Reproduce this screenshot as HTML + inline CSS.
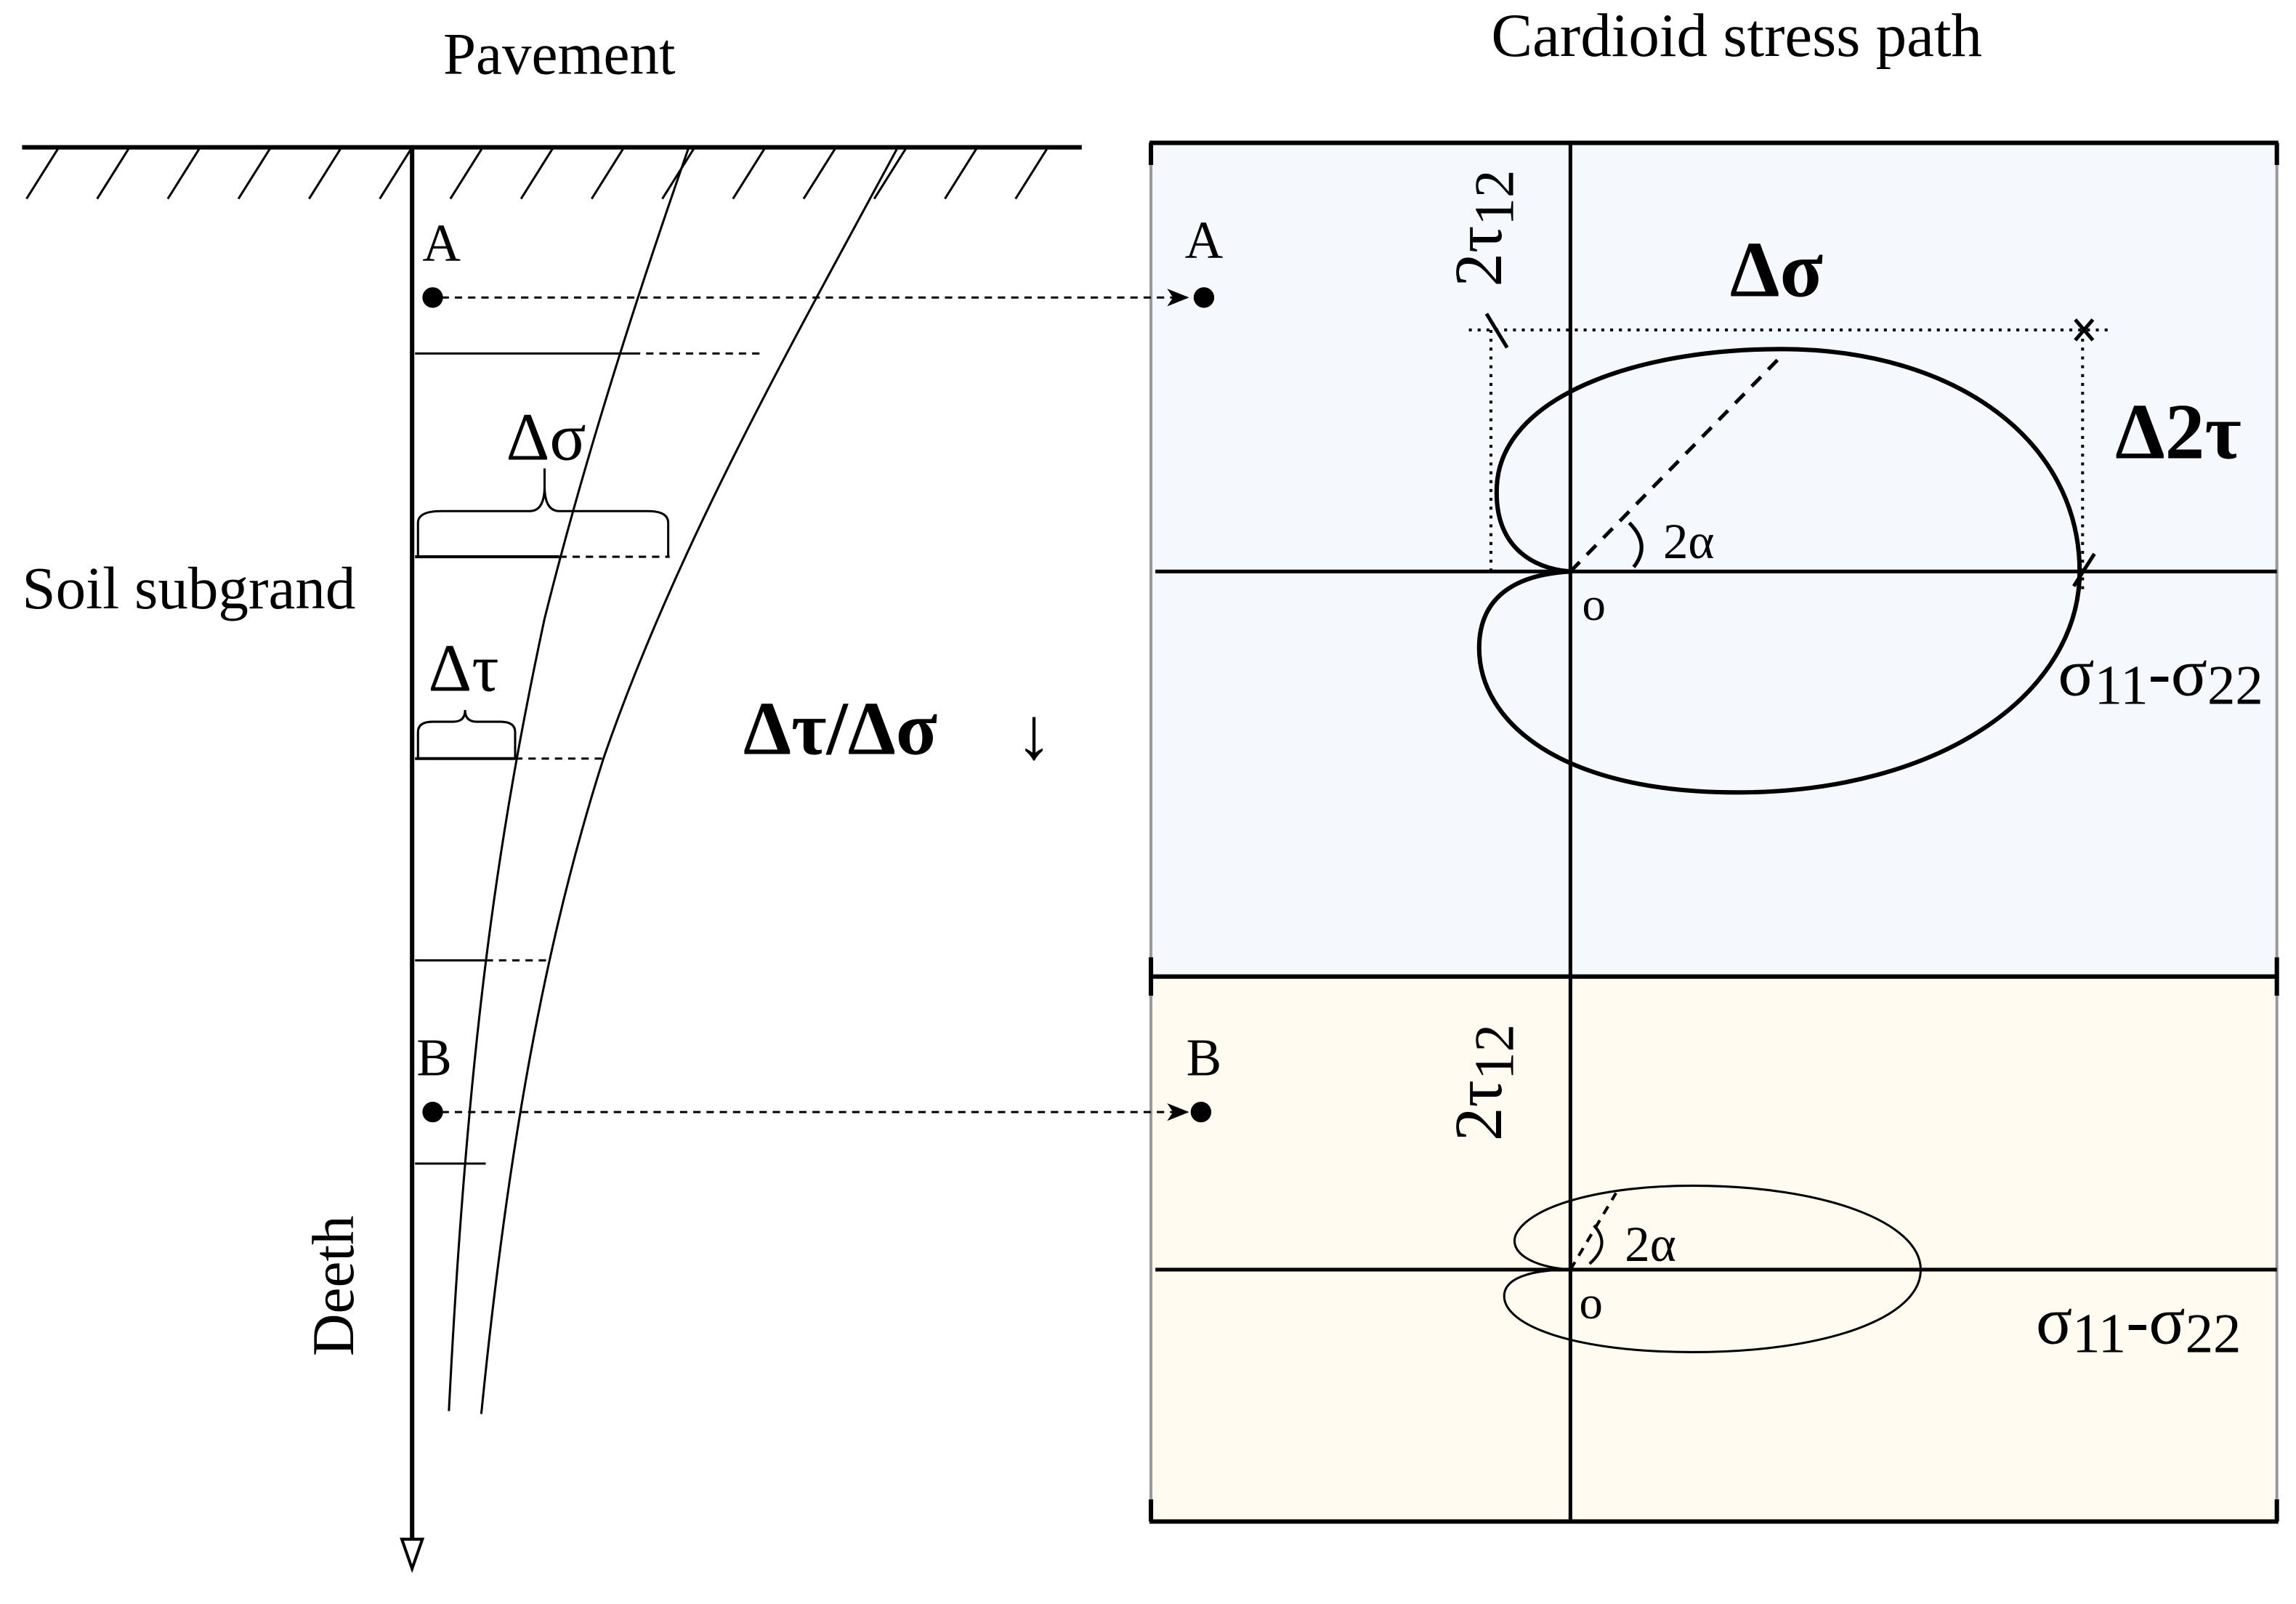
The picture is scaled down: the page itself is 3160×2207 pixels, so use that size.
<!DOCTYPE html>
<html><head><meta charset="utf-8"><style>html,body{margin:0;padding:0;background:#fff}svg{display:block}</style></head>
<body>
<svg width="3160" height="2207" viewBox="0 0 1560 1089" preserveAspectRatio="none" xmlns="http://www.w3.org/2000/svg" font-family="Liberation Serif, serif">
<rect x="0" y="0" width="1560" height="1089" fill="#fff"/>
<rect x="782" y="97" width="765" height="566" fill="#f5f8fd"/>
<rect x="782" y="663" width="765" height="370" fill="#fffbf0"/>
<line x1="782" y1="97" x2="782" y2="1033" stroke="#999" stroke-width="2"/>
<line x1="1547" y1="97" x2="1547" y2="1033" stroke="#999" stroke-width="2"/>
<g stroke="#000" stroke-width="3">
<line x1="781" y1="97" x2="1548" y2="97"/>
<line x1="781" y1="663" x2="1548" y2="663"/>
<line x1="781" y1="1033" x2="1548" y2="1033"/>
<line x1="782" y1="97" x2="782" y2="112"/><line x1="1547" y1="97" x2="1547" y2="112"/>
<line x1="782" y1="650" x2="782" y2="676"/><line x1="1547" y1="650" x2="1547" y2="676"/>
<line x1="782" y1="1018" x2="782" y2="1033"/><line x1="1547" y1="1018" x2="1547" y2="1033"/>
</g>
<g stroke="#000" stroke-width="2.5">
<line x1="1067" y1="97" x2="1067" y2="1033"/>
<line x1="785" y1="388" x2="1547" y2="388"/>
<line x1="785" y1="862" x2="1547" y2="862"/>
</g>
<path d="M1067,388 C1040,386 1015,370 1017,330 C1020,270 1110,237 1210,237 C1330,237 1413,300 1413,388 C1413,470 1320,538 1180,538 C1060,538 1005,490 1005,440 C1005,405 1030,390 1067,388 Z" fill="none" stroke="#000" stroke-width="3"/>
<g stroke="#000" stroke-width="2" stroke-dasharray="2,4" fill="none">
<line x1="998" y1="224" x2="1432" y2="224"/>
<line x1="1013" y1="224" x2="1013" y2="388"/>
<line x1="1415" y1="224" x2="1415" y2="400"/>
</g>
<line x1="1067" y1="388" x2="1212" y2="240" stroke="#000" stroke-width="2.5" stroke-dasharray="9,7"/>
<g stroke="#000" stroke-width="2.5">
<line x1="1410" y1="217" x2="1422" y2="231"/><line x1="1422" y1="217" x2="1410" y2="231"/>
<line x1="1010" y1="213" x2="1024" y2="236"/>
<line x1="1409" y1="398" x2="1423" y2="376"/>
</g>
<path d="M1107,355 Q1122,370 1110,385" fill="none" stroke="#000" stroke-width="2.5"/>
<path d="M1067,862 C1040,860 1025,850 1030,838 C1040,818 1090,805 1150,805 C1240,805 1305,830 1305,862 C1305,895 1240,918 1150,918 C1070,918 1022,900 1022,880 C1022,866 1045,862 1067,862 Z" fill="none" stroke="#000" stroke-width="1.5"/>
<line x1="1067" y1="862" x2="1098" y2="810" stroke="#000" stroke-width="2" stroke-dasharray="6,5"/>
<path d="M1083,832 Q1095,845 1080,858" fill="none" stroke="#000" stroke-width="2"/>
<line x1="15" y1="100" x2="735" y2="100" stroke="#000" stroke-width="3"/>
<g stroke="#000" stroke-width="1.5">
<line x1="40" y1="100" x2="18" y2="135"/><line x1="88" y1="100" x2="66" y2="135"/><line x1="136" y1="100" x2="114" y2="135"/><line x1="184" y1="100" x2="162" y2="135"/><line x1="232" y1="100" x2="210" y2="135"/><line x1="280" y1="100" x2="258" y2="135"/><line x1="328" y1="100" x2="306" y2="135"/><line x1="376" y1="100" x2="354" y2="135"/><line x1="424" y1="100" x2="402" y2="135"/><line x1="472" y1="100" x2="450" y2="135"/><line x1="520" y1="100" x2="498" y2="135"/><line x1="568" y1="100" x2="546" y2="135"/><line x1="616" y1="100" x2="594" y2="135"/><line x1="664" y1="100" x2="642" y2="135"/><line x1="712" y1="100" x2="690" y2="135"/>
</g>
<line x1="280" y1="100" x2="280" y2="1045" stroke="#000" stroke-width="3"/>
<path d="M273,1045 L287,1045 L280,1065 Z" fill="#fff" stroke="#000" stroke-width="2"/>
<g fill="none" stroke="#000" stroke-width="1.5">
<path d="M468,100 C440,180 400,300 370,420 C340,560 318,700 305,958"/>
<path d="M610,100 C540,230 460,370 410,515 C370,640 345,780 327,960"/>
<line x1="282" y1="240" x2="430" y2="240"/><line x1="282" y1="378" x2="380" y2="378" stroke-width="2"/>
<line x1="282" y1="515" x2="350" y2="515" stroke-width="2"/><line x1="282" y1="652" x2="330" y2="652"/><line x1="282" y1="790" x2="330" y2="790"/>
<path d="M284,378 L284,355 Q284,347 300,347 L360,347 Q370,347 370,330 L370,318 M370,330 Q370,347 380,347 L440,347 Q454,347 454,355 L454,378"/>
<path d="M284,515 L284,497 Q284,490 294,490 L308,490 Q316,490 316,482 M316,482 Q316,490 324,490 L340,490 Q350,490 350,497 L350,515"/>
</g>
<g fill="none" stroke="#000" stroke-width="1.5" stroke-dasharray="5,4">
<line x1="430" y1="240" x2="520" y2="240"/><line x1="380" y1="378" x2="455" y2="378"/>
<line x1="350" y1="515" x2="410" y2="515"/><line x1="330" y1="652" x2="372" y2="652"/>
<line x1="300" y1="202" x2="800" y2="202"/><line x1="300" y1="755" x2="800" y2="755"/>
</g>
<path d="M793,196 L808,202 L793,208 L797,202 Z" fill="#000"/>
<path d="M793,749 L808,755 L793,761 L797,755 Z" fill="#000"/>
<circle cx="294" cy="202" r="7" fill="#000"/><circle cx="818" cy="202" r="7" fill="#000"/>
<circle cx="294" cy="755" r="7" fill="#000"/><circle cx="816" cy="755" r="7" fill="#000"/>
<g font-size="40" fill="#000">
<text x="380" y="50" text-anchor="middle">Pavement</text>
<text x="1180" y="38" text-anchor="middle" font-size="42">Cardioid stress path</text>
<text x="15" y="413" font-size="41">Soil subgrand</text>
<text x="300" y="177" text-anchor="middle" font-size="36">A</text>
<text x="818" y="175" text-anchor="middle" font-size="36">A</text>
<text x="295" y="730" text-anchor="middle" font-size="36">B</text>
<text x="818" y="730" text-anchor="middle" font-size="36">B</text>
<text x="371" y="312" text-anchor="middle" font-size="46">Δσ</text>
<text x="315" y="469" text-anchor="middle" font-size="46">Δτ</text>
<text transform="translate(240,873) rotate(-90)" text-anchor="middle">Deeth</text>
<text x="505" y="512" font-weight="bold" font-size="52">Δτ/Δσ</text>
<text x="690" y="515" font-size="50">↓</text>
<text x="1207" y="201" text-anchor="middle" font-weight="bold" font-size="54">Δσ</text>
<text x="1480" y="311" text-anchor="middle" font-weight="bold" font-size="54">Δ2τ</text>
<text transform="translate(1020,155) rotate(-90)" text-anchor="middle" font-size="46">2τ<tspan font-size="38" dy="8">12</tspan></text>
<text transform="translate(1020,735) rotate(-90)" text-anchor="middle" font-size="46">2τ<tspan font-size="38" dy="8">12</tspan></text>
<text x="1130" y="379" font-size="34">2α</text>
<text x="1104" y="856" font-size="34">2α</text>
<text x="1083" y="421" text-anchor="middle" font-size="32">o</text>
<text x="1081" y="895" text-anchor="middle" font-size="32">o</text>
<text x="1468" y="472" text-anchor="middle" font-size="46">σ<tspan font-size="38" dy="6">11</tspan><tspan dy="-6">-σ</tspan><tspan font-size="38" dy="6">22</tspan></text>
<text x="1453" y="912" text-anchor="middle" font-size="46">σ<tspan font-size="38" dy="6">11</tspan><tspan dy="-6">-σ</tspan><tspan font-size="38" dy="6">22</tspan></text>
</g>
</svg>
</body></html>
